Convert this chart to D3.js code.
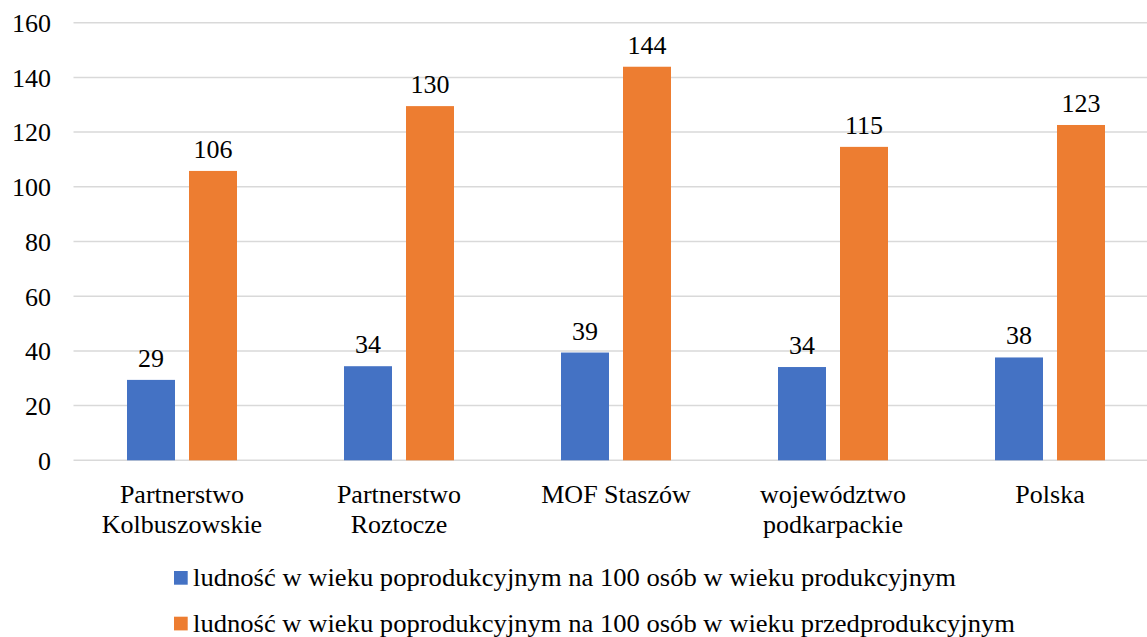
<!DOCTYPE html>
<html>
<head>
<meta charset="UTF-8" />
<title>Wskaźniki obciążenia demograficznego</title>
<script src="https://d3js.org/d3.v7.min.js"></script>
</head>
<body style="margin:0">
<svg width="1147" height="637"></svg>
<script>
const categories = [
	['Partnerstwo', 'Kolbuszowskie'],
	['Partnerstwo', 'Roztocze'],
	['MOF Staszów'],
	['województwo', 'podkarpackie'],
	['Polska']
];
const seriesNames = [
	'ludność w wieku poprodukcyjnym na 100 osób w wieku produkcyjnym',
	'ludność w wieku poprodukcyjnym na 100 osób w wieku przedprodukcyjnym'
];
const produkcyjny = [29.4, 34.4, 39.4, 34.1, 37.6];
const przedprodukcyjny = [105.8, 129.5, 143.9, 114.6, 122.6];
const yTicks = [0, 20, 40, 60, 80, 100, 120, 140, 160];
const colors = ['#4472c4', '#ed7d31'];

const svg = d3.select('svg');
const plotLeft = 73.5, plotRight = 1158.5, plotTop = 22.7, plotBottom = 460.3;
const serif = '"Liberation Serif", monospace';

// serif labels, set inline so nothing overrides them
const label = sel => sel
	.style('font-family', serif, 'important')
	.style('font-size', '26px')
	.attr('fill', '#000');

const x = d3.scaleBand().domain(d3.range(categories.length)).range([plotLeft, plotRight]);
const y = d3.scaleLinear().domain([0, 160]).range([plotBottom, plotTop]);

// gridlines
svg.append('g')
	.selectAll('line').data(yTicks).enter().append('line')
	.attr('x1', plotLeft).attr('x2', plotRight)
	.attr('y1', d => y(d)).attr('y2', d => y(d))
	.attr('stroke', '#d9d9d9').attr('stroke-width', 1.5);

// y tick labels
svg.append('g').selectAll('text').data(yTicks).enter().append('text')
	.attr('x', 51).attr('y', d => y(d) + 9.3)
	.attr('text-anchor', 'end')
	.call(label)
	.text(d => d);

const barW = 48, gap = 14;
const series = [produkcyjny, przedprodukcyjny];
const fmt = d => Math.round(d);

series.forEach((vals, s) => {
	const off = s === 0 ? -(gap / 2 + barW) : gap / 2;
	const g = svg.append('g');
	g.selectAll('rect').data(vals).enter().append('rect')
		.attr('x', (d, i) => x(i) + x.bandwidth() / 2 + off)
		.attr('y', d => y(d))
		.attr('width', barW)
		.attr('height', d => plotBottom - y(d))
		.attr('fill', colors[s]);
	g.selectAll('text').data(vals).enter().append('text')
		.attr('x', (d, i) => x(i) + x.bandwidth() / 2 + off + barW / 2)
		.attr('y', d => y(d) - 13)
		.attr('text-anchor', 'middle')
		.call(label)
		.text(fmt);
});

// category labels
const cat = svg.append('g').selectAll('text').data(categories).enter().append('text')
	.attr('text-anchor', 'middle')
	.call(label)
	.attr('x', (d, i) => x(i) + x.bandwidth() / 2)
	.attr('y', 502.7);
cat.selectAll('tspan').data(d => d).enter().append('tspan')
	.attr('x', function () { return d3.select(this.parentNode).attr('x'); })
	.attr('dy', (d, i) => i === 0 ? 0 : 30)
	.text(d => d);

// legend
const legendWidths = [763, 822];
const leg = svg.append('g').selectAll('g').data(seriesNames).enter().append('g')
	.attr('transform', (d, i) => `translate(174, ${586 + i * 45.7})`);
leg.append('rect').attr('x', 0).attr('y', -15).attr('width', 13.7).attr('height', 13.7)
	.attr('fill', (d, i) => colors[i]);
leg.append('text').attr('x', 19).attr('y', 0)
	.attr('textLength', (d, i) => legendWidths[i])
	.attr('lengthAdjust', 'spacingAndGlyphs')
	.call(label)
	.text(d => d);
</script>
</body>
</html>
